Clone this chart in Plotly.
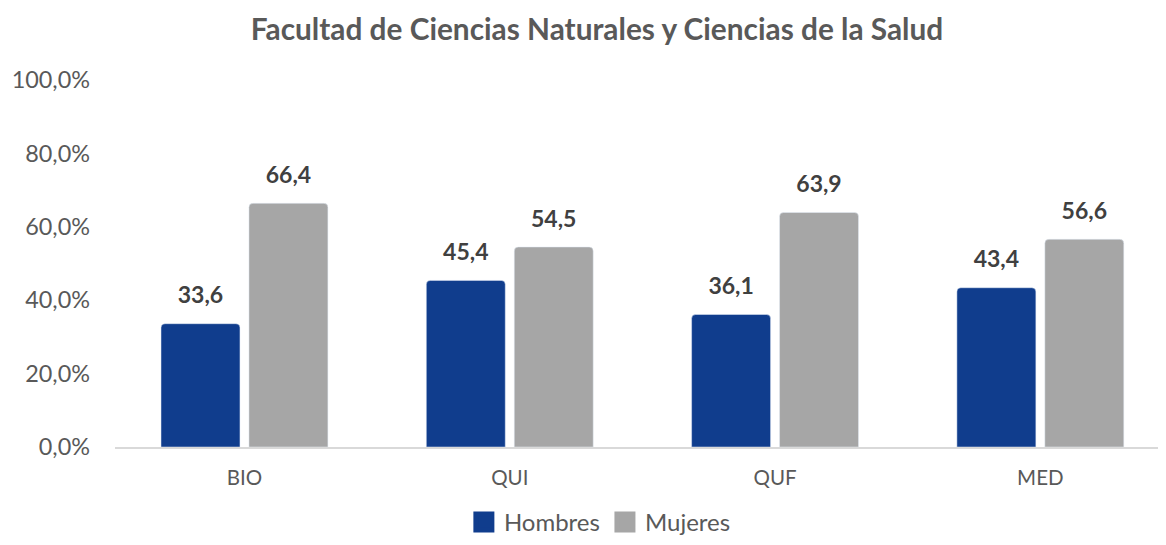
import plotly.graph_objects as go

categories = ["BIO", "QUI", "QUF", "MED"]
hombres = [33.6, 45.4, 36.1, 43.4]
mujeres = [66.4, 54.5, 63.9, 56.6]
tick_vals = [0, 20, 40, 60, 80, 100]
tick_text = ["0,0%", "20,0%", "40,0%", "60,0%", "80,0%", "100,0%"]

FONT = "Lato"
series = [("Hombres", hombres, "#103D8D", "h"), ("Mujeres", mujeres, "#A6A6A6", "m")]

fig = go.Figure()
for name, vals, color, grp in series:
    fig.add_trace(go.Bar(
        name=name, x=categories, y=vals, marker_color=color,
        offsetgroup=grp, showlegend=False, hoverinfo="skip",
    ))
for name, vals, color, grp in series:
    # value labels
    fig.add_trace(go.Scatter(
        x=categories, y=vals, mode="markers+text", offsetgroup=grp,
        marker=dict(size=21.6, opacity=0),
        text=[f"{v:.1f}".replace(".", ",") for v in vals],
        textposition="top center", cliponaxis=False, showlegend=False,
        textfont=dict(family=FONT, size=23, color="#404040", weight="bold"),
    ))
for name, vals, color, grp in series:
    # legend entries
    fig.add_trace(go.Scatter(
        name=name, x=[None], y=[None], mode="markers", offsetgroup=grp,
        marker=dict(symbol="square", size=16, color=color, line=dict(color=color, width=5)),
    ))

# the page body has an 8px margin, so the figure is sized to fit the window
fig.update_layout(
    width=1158, height=537,
    paper_bgcolor="white", plot_bgcolor="white",
    margin=dict(l=107, r=6, t=72, b=98),
    barmode="group", bargap=0.337, bargroupgap=0.102, barcornerradius=4,
    scattermode="group", scattergap=0.337,
    title=dict(text="<b>Facultad de Ciencias Naturales y Ciencias de la Salud</b>",
               x=0.5086, xanchor="center", y=0.959, yanchor="middle",
               font=dict(family=FONT, size=29.8, color="#595959")),
    font=dict(family=FONT, color="#595959"),
    showlegend=True,
    legend=dict(orientation="h", x=0.464, xanchor="center",
                yref="container", y=-0.011, yanchor="bottom",
                font=dict(family=FONT, size=24, color="#595959"),
                itemwidth=30, traceorder="normal"),
)
fig.update_xaxes(range=[-0.488, 3.451], showgrid=False, showline=True, linecolor="#D9D9D9",
                 linewidth=1.8, ticks="", tickfont=dict(family=FONT, size=20.5, color="#595959"),
                 ticklabelstandoff=11, automargin=False)
fig.update_yaxes(range=[0, 100], tickvals=tick_vals, ticktext=tick_text, showgrid=False,
                 zeroline=False, showline=False, ticks="",
                 tickfont=dict(family=FONT, size=23.4, color="#595959"), ticklabelstandoff=24,
                 automargin=False)

fig.write_html("out.html")
